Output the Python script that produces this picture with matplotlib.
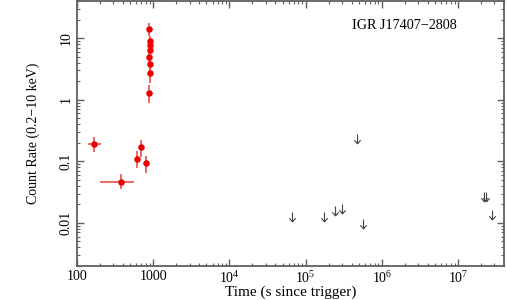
import numpy as np
import matplotlib
matplotlib.use("Agg")
import matplotlib.pyplot as plt
from matplotlib.path import Path
from matplotlib.ticker import FixedLocator, FixedFormatter, LogLocator, NullFormatter

plt.rcParams['font.family'] = ['Liberation Serif', 'DejaVu Serif']
plt.rcParams['mathtext.fontset'] = 'custom'
plt.rcParams['mathtext.rm'] = 'Liberation Serif'

# detections
det_t = [168, 379, 607, 698, 795, 879, 898, 916, 898, 889, 906, 916, 871]
det_t_lo = [138, 200, 607, 698, 795, 879, 898, 916, 898, 889, 906, 916, 871]
det_t_hi = [204, 555, 607, 698, 795, 879, 898, 916, 898, 889, 906, 916, 871]
det_rate = [0.194, 0.047, 0.11, 0.169, 0.093, 14.0, 8.9, 7.8, 6.3, 5.0, 3.85, 2.7, 1.28]
det_rate_lo = [0.14, 0.035, 0.078, 0.117, 0.065, 11.0, 7.2, 6.3, 5.0, 4.0, 3.0, 1.9, 0.87]
det_rate_hi = [0.25, 0.063, 0.145, 0.22, 0.122, 17.5, 11.0, 9.6, 7.8, 6.2, 4.9, 3.6, 1.71]

# upper limits
ul_t = [6.7e4, 1.73e5, 2.43e5, 3.0e5, 4.66e5, 5.6e5, 2.2e7, 2.35e7, 2.75e7]
ul_rate = [0.0151, 0.015, 0.0189, 0.020, 0.28, 0.0114, 0.032, 0.032, 0.016]

xtick_vals = [1e2, 1e3, 1e4, 1e5, 1e6, 1e7]
xtick_labels = ['100', '1000', r'$\mathregular{10^{4}}$', r'$\mathregular{10^{5}}$',
                r'$\mathregular{10^{6}}$', r'$\mathregular{10^{7}}$']
ytick_vals = [0.01, 0.1, 1, 10]
ytick_labels = ['0.01', '0.1', '1', '10']

source_name = 'IGR J17407\u22122808'

fig = plt.figure(figsize=(5.07, 3.0), dpi=100)
ax = fig.add_axes([77/507, 1-266/300, 427/507, 265/300])
ax.set_xscale('log')
ax.set_yscale('log')
ax.set_xlim(100, 4e7)
ax.set_ylim(0.002, 40)

t = np.array(det_t); r = np.array(det_rate)
xerr = [t - np.array(det_t_lo), np.array(det_t_hi) - t]
yerr = [r - np.array(det_rate_lo), np.array(det_rate_hi) - r]
ax.errorbar(t, r, xerr=xerr, yerr=yerr, fmt='none', ecolor='#f05a5a', elinewidth=1.3, capsize=0, zorder=2)
ax.plot(t, r, 'o', color='#ee0000', markersize=4.7, markeredgewidth=0, zorder=3)

arrow = Path([(0, 0), (0, -1), (-0.34, -0.62), (0, -1), (0.34, -0.62)],
             [Path.MOVETO, Path.LINETO, Path.MOVETO, Path.LINETO, Path.LINETO])
ax.plot(ul_t, ul_rate, linestyle='none', marker=arrow, markersize=13.4,
        markerfacecolor='none', markeredgecolor='#444444', markeredgewidth=0.8)

ax.text(0.645, 0.906, source_name, transform=ax.transAxes, fontsize=10.2, ha='left', va='center')

ax.xaxis.set_major_locator(FixedLocator(xtick_vals))
ax.xaxis.set_major_formatter(FixedFormatter(xtick_labels))
ax.xaxis.set_minor_locator(LogLocator(base=10, subs=np.arange(2, 10), numticks=20))
ax.xaxis.set_minor_formatter(NullFormatter())
ax.yaxis.set_major_locator(FixedLocator(ytick_vals))
ax.yaxis.set_major_formatter(FixedFormatter(ytick_labels))
ax.yaxis.set_minor_locator(LogLocator(base=10, subs=np.arange(2, 10), numticks=20))
ax.yaxis.set_minor_formatter(NullFormatter())

for s in ax.spines.values():
    s.set_color('#606060')
    s.set_linewidth(1.3)
ax.tick_params(which='both', direction='in', top=True, right=True, color='#606060')
ax.tick_params(which='major', length=5, width=1.0, labelsize=10, pad=3)
ax.tick_params(which='minor', length=2.5, width=0.8)
for lab in ax.get_yticklabels():
    lab.set_rotation(90)
    lab.set_va('center')

ax.set_xlabel('Time (s since trigger)', fontsize=11, labelpad=-0.5)
ax.set_ylabel('Count Rate (0.2\u221210 keV)', fontsize=10, labelpad=14)

fig.savefig('out.png', dpi=100)
